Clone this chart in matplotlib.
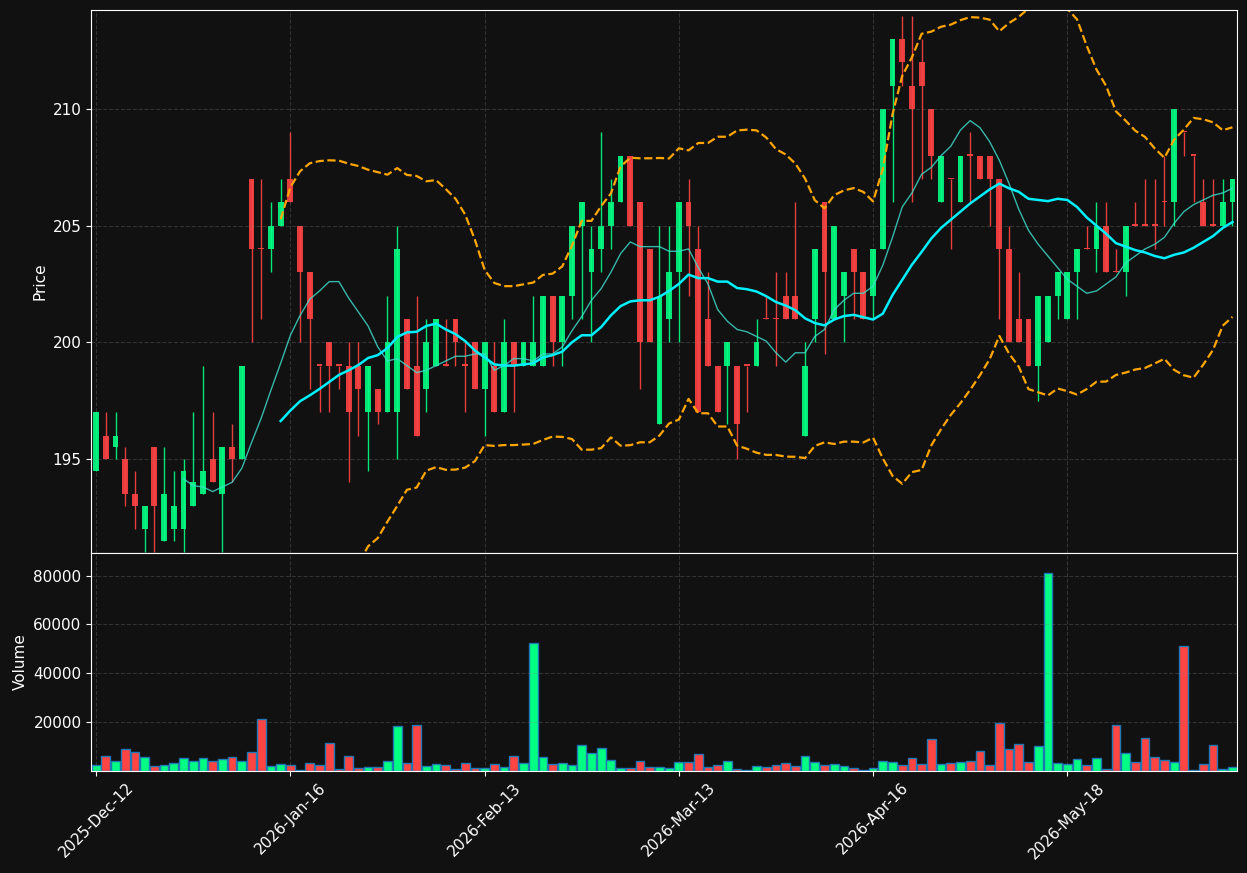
import matplotlib
matplotlib.use("Agg")
from matplotlib import pyplot as plt
import numpy as np
import pandas as pd

# daily bars, one per trading session
opens = [194.5, 196, 195.5, 195, 193.5, 192, 195.5, 191.5, 192, 192,
         193, 193.5, 195, 193.5, 195.5, 195, 207, 204, 204, 205,
         207, 205, 203, 199, 200, 199, 199, 199, 197, 198,
         197, 197, 201, 199, 198, 199, 199, 201, 199, 200,
         198, 199, 197, 200, 199, 199, 199, 202, 200, 202,
         205, 203, 204, 205, 206, 208, 206, 204, 196.5, 201,
         203, 206, 204, 201, 199, 199, 199, 199, 199, 201,
         201, 202, 202, 196, 201, 206, 201, 202, 204, 203,
         202, 204, 211, 213, 211, 212, 210, 206, 207, 206,
         208, 208, 208, 207, 204, 201, 201, 199, 200, 202,
         201, 203, 204, 204, 205, 203, 203, 205, 205, 205,
         206, 206, 209, 208, 206, 205, 205, 206]
highs = [197, 197, 197, 195.5, 194.5, 193, 195.5, 195.5, 194.5, 195,
         197, 199, 197, 195.5, 196.5, 199, 207, 207, 206, 207,
         209, 205, 203, 199, 200, 199, 200, 200, 199, 198,
         202, 205, 201, 202, 201, 201, 201, 201, 200, 200,
         200, 200, 201, 200, 200, 202, 202, 202, 202, 205,
         206, 205, 209, 207, 208, 208, 206, 204, 205, 205,
         206, 207, 205, 203, 199, 200, 199, 199, 201, 202,
         203, 203, 206, 200, 204, 206, 205, 203, 204, 203,
         204, 210, 213, 214, 214, 213, 210, 208, 207, 208,
         209, 208, 208, 207, 205, 203, 201, 202, 202, 203,
         203, 204, 205, 206, 206, 204, 205, 206, 207, 207,
         208, 210, 209, 208, 207, 207, 207, 207]
lows = [194.5, 195, 195, 193, 192, 191, 191, 191.5, 191.5, 191,
        193, 193.5, 194, 191, 194, 195, 200, 201, 203, 205,
        206, 200, 198, 197, 197, 198, 194, 196, 194.5, 196.5,
        197, 195, 198, 196, 197, 199, 199, 199, 197, 198,
        196, 197, 197, 197, 199, 199, 199, 199, 199, 201,
        201, 200, 203, 204, 206, 205, 198, 200, 196.5, 200,
        200, 202, 197, 199, 197, 196.5, 195, 197, 199, 201,
        199, 201, 201, 196, 200, 199.5, 201, 200, 201, 201,
        201, 204, 206, 211, 206, 207, 207, 206, 204, 206,
        206, 207, 205, 201, 200, 200, 199, 197.5, 200, 201,
        201, 201, 204, 203, 203, 203, 202, 205, 205, 204,
        205, 205, 208, 206, 205, 205, 205, 205]
closes = [197, 195, 196, 193.5, 193, 193, 193, 193.5, 193, 194.5,
          194, 194.5, 194, 195.5, 195, 199, 204, 204, 205, 206,
          206, 203, 201, 199, 199, 199, 197, 198, 199, 197,
          200, 204, 198, 196, 200, 201, 199, 200, 199, 198,
          200, 197, 200, 199, 200, 200, 202, 200, 202, 205,
          206, 204, 205, 206, 208, 205, 200, 200, 202, 203,
          206, 205, 197, 199, 197, 200, 196.5, 199, 200, 201,
          201, 201, 201, 199, 204, 203, 205, 203, 203, 201,
          204, 210, 213, 212, 210, 211, 208, 208, 207, 208,
          208, 207, 207, 204, 200, 200, 199, 202, 202, 203,
          203, 204, 204, 205, 203, 203, 205, 205, 205, 205,
          206, 210, 209, 208, 205, 205, 206, 207]
volumes = [2340, 6060, 3990, 8950, 7710, 5640, 1930, 2340, 3170, 5230,
           3990, 5230, 3990, 4820, 5640, 3990, 7710, 21340, 1930, 2750,
           2340, 300, 3170, 2340, 11420, 690, 6060, 1100, 1510, 1510,
           3990, 18440, 3170, 18860, 1930, 2750, 2340, 690, 3170, 1100,
           1000, 2750, 1510, 6060, 3170, 52300, 5640, 2750, 3170, 2340,
           10600, 7300, 9360, 4400, 1100, 1100, 3990, 1510, 1510, 1100,
           3580, 3580, 6880, 1510, 2340, 3990, 690, 100, 1930, 1510,
           2340, 3170, 1930, 6060, 3580, 2340, 2750, 1930, 1100, 300,
           1100, 3990, 3580, 2340, 5230, 2750, 13080, 2750, 3170, 3580,
           3990, 8120, 2340, 19680, 8950, 11010, 3580, 10190, 81200, 3170,
           2750, 4820, 2340, 5230, 690, 18860, 7300, 3580, 13490, 5640,
           4400, 3580, 51060, 300, 2750, 10600, 690, 1510]
tick_labels = ["2025-Dec-12", "2026-Jan-16", "2026-Feb-13",
               "2026-Mar-13", "2026-Apr-16", "2026-May-18"]

BG = "#111111"
UP = "#00ff83"
DOWN = "#ff4444"

plt.rcParams["font.size"] = 11

df = pd.DataFrame({"Open": opens, "High": highs, "Low": lows,
                   "Close": closes, "Volume": volumes})
df["SMA10"] = df["Close"].rolling(10).mean()
df["SMA20"] = df["Close"].rolling(20).mean()
std20 = df["Close"].rolling(20).std(ddof=0)
df["Upper"] = df["SMA20"] + 2 * std20
df["Lower"] = df["SMA20"] - 2 * std20

x = np.arange(len(df))
colors = np.where(df["Close"] > df["Open"], UP, DOWN)

fig = plt.figure(figsize=(12.47, 8.73), dpi=100, facecolor=BG)
ax1 = fig.add_axes([0.0732, 0.3666, 0.9190, 0.6219])
ax2 = fig.add_axes([0.0732, 0.1174, 0.9190, 0.2492], sharex=ax1)

# candles
ax1.vlines(x, df["Low"], df["High"], color=colors, linewidth=1, alpha=0.9)
body = (df["Close"] - df["Open"]).abs().clip(lower=0.05)
ax1.bar(x, body, bottom=np.minimum(df["Open"], df["Close"]), width=0.6,
        color=colors, alpha=0.9)

# indicators
ax1.plot(x, df["SMA10"], color="#40e0d0", linewidth=1, alpha=0.8)
ax1.plot(x, df["SMA20"], color="#00f0ff", linewidth=1.8)
ax1.plot(x, df["Upper"], color="orange", linestyle="--", linewidth=1.6)
ax1.plot(x, df["Lower"], color="orange", linestyle="--", linewidth=1.6)

# volume
ax2.bar(x, df["Volume"], width=0.9, color=colors, edgecolor="#1f77b4", linewidth=1)

ax1.set_xlim(-0.5, len(df) - 0.5)
ax1.set_ylim(df["Low"].min() - 0.03, df["High"].max() + 0.24)
ax2.set_ylim(0, df["Volume"].max() * 1.1)
ax2.set_yticks([20000, 40000, 60000, 80000])
ax2.set_xticks(range(0, len(df), 20))
ax2.set_xticklabels(tick_labels, rotation=45)
ax1.tick_params(labelbottom=False)

ax1.set_ylabel("Price", color="white")
ax2.set_ylabel("Volume", color="white")

for ax in (ax1, ax2):
    ax.set_facecolor(BG)
    ax.grid(True, linestyle="--", color="gray", alpha=0.3)
    ax.tick_params(colors="white")
    for s in ax.spines.values():
        s.set_color("white")

fig.savefig("out.png", dpi=100, facecolor=BG)
